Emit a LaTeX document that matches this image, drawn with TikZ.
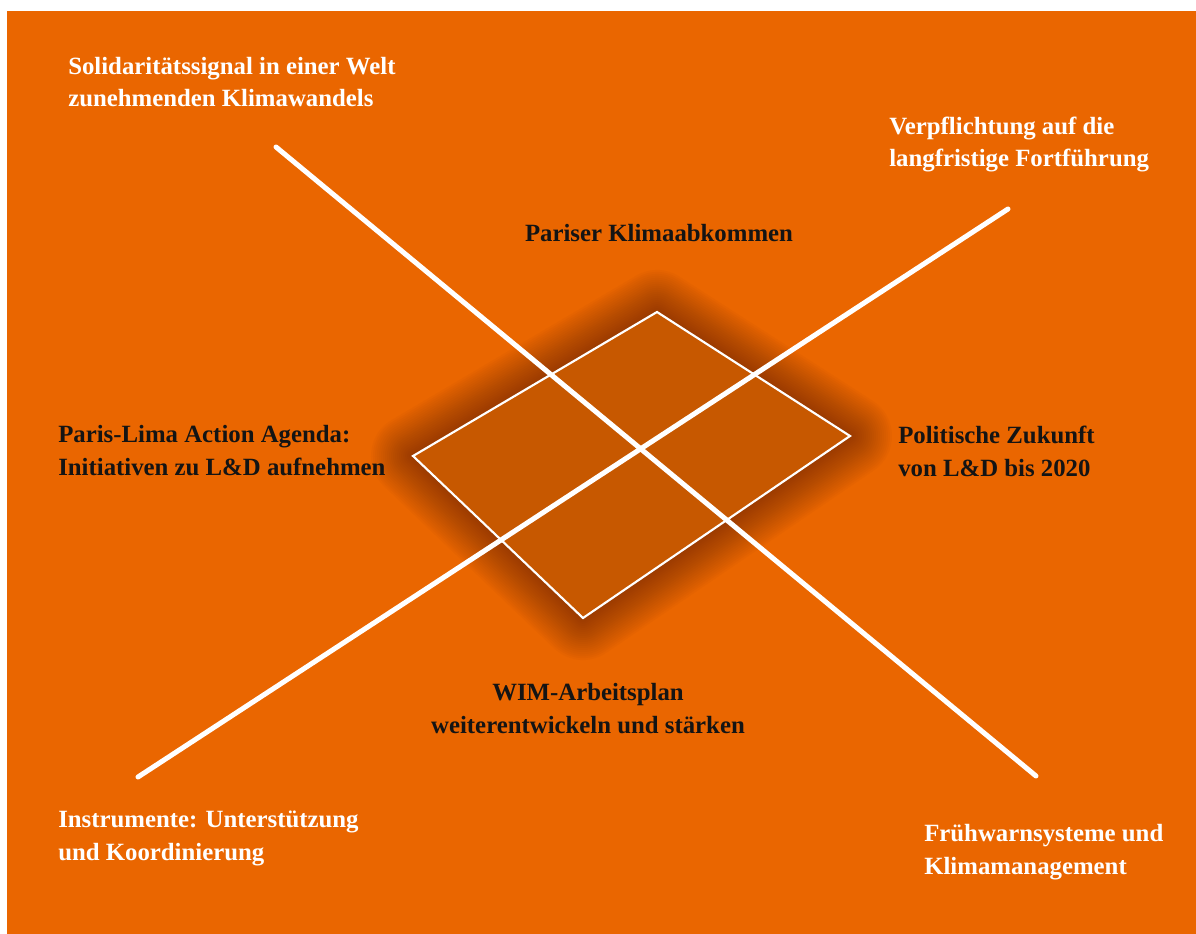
\documentclass[tikz,border=0pt]{standalone}
\usepackage{fontspec}
\setmainfont{Liberation Serif}
\usetikzlibrary{positioning}
\definecolor{bgorange}{HTML}{EA6600}
\definecolor{fieldorange}{HTML}{C75800}
\definecolor{glow}{HTML}{4A1A00}
\definecolor{ink}{HTML}{141414}
\tikzset{
  txt/.style={font=\bfseries\fontsize{18.6}{24.4}\selectfont, inner sep=0pt, anchor=base west, align=left},
  bar/.style={white, line width=3.75pt, line cap=round},
  field/.style={draw=white, line width=1.6pt, fill=fieldorange, line join=miter}
}
\begin{document}
\begin{tikzpicture}[x=0.75pt, y=-0.75pt]
        \useasboundingbox (0,0) rectangle (1196,934);
        \fill[bgorange] (7,11) rectangle (1196,934);
        % rhombus corners
        \coordinate (t) at (657,312);
        \coordinate (r) at (850,436);
        \coordinate (b) at (583,618);
        \coordinate (l) at (413,456);
        \foreach \w in {84,80,...,4}
            \draw[glow, opacity=0.026, line width=\w*0.75pt, line join=round] (t) -- (r) -- (b) -- (l) -- cycle;
        \draw[field] (t) -- (r) -- (b) -- (l) -- cycle;
        % crossing bars
        \coordinate (a1) at (276,147);
        \coordinate (a2) at (1036,776);
        \coordinate (b1) at (138,777);
        \coordinate (b2) at (1008,209);
        \draw[bar] (a1) -- (a2);
        \draw[bar] (b1) -- (b2);
        % texts (anchored at the baseline of the last line)
        \node[txt, white] (sol) at (68,107) {Solidaritätssignal in einer Welt\\zunehmenden Klimawandels};
        \node[txt, white] (verp) at (889,167) {Verpflichtung auf die\\langfristige Fortführung};
        \node[txt, ink, anchor=base] (paris) at (659,242) {Pariser Klimaabkommen};
        \node[txt, ink] (lima) at (58,475) {Paris-Lima Action Agenda:\\Initiativen zu L\&D aufnehmen};
        \node[txt, ink] (zuk) at (898,476) {Politische Zukunft\\von L\&D bis 2020};
        \node[txt, ink, anchor=base, align=center] (wim) at (588,733) {WIM-Arbeitsplan\\weiterentwickeln und stärken};
        \node[txt, white] (inst) at (58,860) {Instrumente: Unterstützung\\und Koordinierung};
        \node[txt, white] (fruh) at (924,874) {Frühwarnsysteme und\\Klimamanagement};
    \end{tikzpicture}
\end{document}
